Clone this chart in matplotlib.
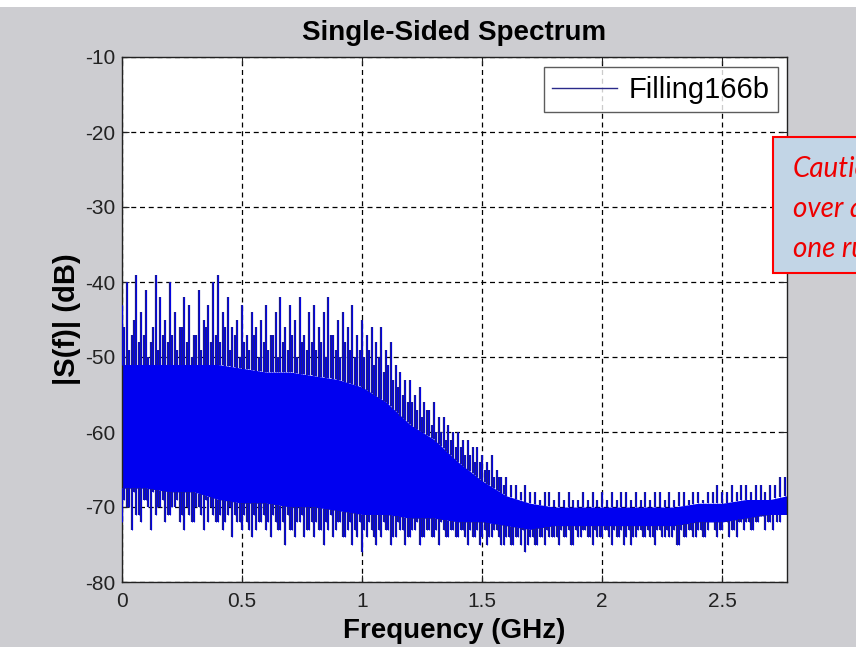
import numpy as np
import matplotlib.pyplot as plt
from matplotlib.patches import Rectangle

plt.rcParams['font.family'] = ['Liberation Sans', 'DejaVu Sans']
plt.rcParams['axes.unicode_minus'] = False

# core band of the spectrum (solid part), read every 0.1 GHz
f_env = [0, 0.1, 0.2, 0.3, 0.4, 0.5, 0.6, 0.7, 0.8, 0.9, 1.0, 1.1, 1.2, 1.3, 1.4,
         1.5, 1.6, 1.7, 1.8, 1.9, 2.0, 2.1, 2.2, 2.3, 2.4, 2.5, 2.6, 2.7, 2.77]
core_hi = [-51, -51, -51, -51, -51, -51.5, -52, -52, -52.5, -53, -54, -56, -59, -61, -64,
           -66.5, -68.5, -69.5, -70, -70, -70, -70, -70, -70, -69.5, -69.5, -69, -69, -68.5]
core_lo = [-67.5, -67.5, -68, -68, -69, -69.5, -69.5, -70, -70, -70.5, -71, -71, -71.5, -71.5, -72,
           -72, -72.5, -73, -72.5, -72.5, -72.5, -72.5, -72.5, -72.5, -72, -72, -71.5, -71, -71]

# spike extremes every 0.02 GHz (0 .. 2.76)
spike_hi = [-43, -40, -47, -39, -44, -41, -48, -39, -42, -45,
            -40, -44, -46, -42, -43, -47, -41, -45, -43, -40,
            -39, -44, -42, -46, -45, -43, -47, -44, -46, -45,
            -43, -47, -44, -42, -46, -43, -45, -42, -47, -44,
            -43, -46, -44, -42, -47, -45, -44, -46, -43, -47,
            -45, -47, -46, -48, -46, -49, -48, -51, -52, -53,
            -53, -55, -54, -56, -57, -56, -58, -58, -59, -60,
            -60, -61, -61, -62, -62, -63, -64, -63, -65, -66,
            -66, -67, -67, -68, -67, -68, -68, -69, -68, -68,
            -69, -68, -69, -68, -69, -69, -68, -69, -68, -69,
            -68, -69, -68, -69, -68, -68, -69, -68, -69, -68,
            -69, -68, -68, -69, -68, -69, -68, -68, -69, -68,
            -68, -69, -68, -68, -67, -68, -68, -67, -68, -67,
            -67, -68, -67, -67, -68, -67, -67, -66, -66]
spike_lo = [-72, -70, -73, -71, -72, -69, -73, -71, -70, -72,
            -71, -70, -72, -73, -71, -72, -70, -73, -72, -71,
            -72, -73, -71, -74, -72, -73, -72, -74, -73, -72,
            -73, -74, -72, -73, -75, -73, -74, -72, -74, -73,
            -74, -73, -75, -73, -74, -72, -74, -73, -75, -74,
            -76, -74, -73, -75, -74, -73, -75, -74, -73, -75,
            -74, -73, -75, -74, -73, -74, -75, -73, -74, -73,
            -74, -73, -75, -74, -73, -74, -75, -74, -73, -75,
            -74, -75, -74, -75, -76, -74, -75, -74, -75, -74,
            -74, -75, -74, -73, -75, -74, -73, -74, -75, -74,
            -74, -73, -75, -74, -73, -74, -75, -74, -73, -74,
            -74, -75, -73, -74, -74, -73, -75, -74, -73, -74,
            -73, -74, -73, -72, -74, -73, -72, -73, -74, -72,
            -72, -73, -72, -71, -73, -72, -71, -72, -71]
f_spike = np.linspace(0, 2.76, len(spike_hi))

# in-between spikes (0.01 .. 1.59 upper, 0.01 .. 2.75 lower)
spike_hi_b = [-46, -49, -45, -48, -47, -50, -46, -49, -47, -48,
              -47, -49, -46, -48, -50, -47, -49, -46, -48, -47,
              -48, -46, -49, -47, -50, -48, -49, -47, -50, -48,
              -49, -47, -50, -48, -49, -47, -50, -48, -49, -48,
              -49, -48, -50, -47, -49, -50, -48, -49, -50, -49,
              -50, -49, -51, -50, -52, -51, -53, -54, -55, -56,
              -56, -57, -58, -57, -59, -60, -60, -61, -61, -62,
              -62, -63, -63, -64, -64, -65, -65, -66, -66, -67]
spike_lo_b = [-69, -70, -68, -71, -69, -70, -68, -70, -69, -71,
              -70, -69, -71, -70, -72, -70, -71, -69, -70, -72,
              -71, -72, -70, -71, -72, -71, -73, -71, -72, -71,
              -72, -71, -73, -72, -71, -73, -72, -71, -73, -72,
              -72, -73, -72, -71, -73, -72, -74, -72, -73, -72,
              -73, -72, -74, -73, -72, -73, -74, -72, -73, -74,
              -73, -72, -74, -73, -74, -73, -72, -74, -73, -74,
              -73, -74, -73, -74, -75, -73, -74, -73, -74, -75,
              -74, -75, -74, -73, -75, -74, -75, -74, -73, -74,
              -74, -73, -74, -75, -73, -74, -73, -74, -73, -74,
              -73, -74, -73, -74, -75, -73, -74, -73, -74, -73,
              -74, -73, -74, -73, -74, -75, -73, -74, -73, -74,
              -73, -74, -72, -73, -73, -72, -74, -73, -72, -73,
              -72, -73, -72, -71, -72, -73, -72, -71]
f_hi_b = np.linspace(0.01, 1.59, len(spike_hi_b))
f_lo_b = np.linspace(0.01, 2.75, len(spike_lo_b))

fig = plt.figure(figsize=(8.56, 6.47), dpi=100, facecolor='#cdcdd1')
fig.patches.append(Rectangle((0, 1 - 7/647), 1, 7/647, transform=fig.transFigure,
                             facecolor='white', edgecolor='none', zorder=0))
ax = fig.add_axes([122/856, 1 - 582/647, 665/856, 525/647])

navy = '#1a1a90'
blue = '#0000f0'
ax.fill_between(f_env, core_lo, core_hi, color=blue, lw=0, zorder=2)
for ff, tips, ref in [(f_spike, spike_hi, core_hi), (f_hi_b, spike_hi_b, core_hi),
                      (f_spike, spike_lo, core_lo), (f_lo_b, spike_lo_b, core_lo)]:
    base = np.interp(ff, f_env, ref)
    ax.vlines(ff, base, tips, color=navy, lw=1.6, zorder=3)
    ax.vlines(ff, base, tips, color=blue, lw=0.6, zorder=3)
ax.plot([], [], color='#2a2a8a', lw=1, label='Filling166b')

ax.set_xlim(0, 2.77)
ax.set_ylim(-80, -10)
ax.set_xticks([0, 0.5, 1, 1.5, 2, 2.5])
ax.set_xticklabels(['0', '0.5', '1', '1.5', '2', '2.5'])
ax.set_yticks(range(-80, -9, 10))
ax.grid(True, color='black', linestyle=(0, (4, 3)), lw=0.9, zorder=1)
ax.set_axisbelow(True)
ax.tick_params(direction='in', length=5, labelsize=15, colors='#222222', top=True, right=True)
ax.tick_params(axis='x', pad=7)
ax.tick_params(axis='y', pad=5)
for s in ax.spines.values():
    s.set_linewidth(1.0)
    s.set_color('#222222')

ax.set_title('Single-Sided Spectrum', fontsize=20, fontweight='bold', pad=12)
ax.set_xlabel('Frequency (GHz)', fontsize=20, fontweight='bold', labelpad=5)
ax.set_ylabel('|S(f)| (dB)', fontsize=21, fontweight='bold', labelpad=3)

leg = ax.legend(loc='upper right', fontsize=21, frameon=True, fancybox=False,
                handlelength=2.2, handletextpad=0.4, borderpad=0.3, borderaxespad=0,
                bbox_to_anchor=(0.9865, 0.981))
leg.get_frame().set_edgecolor('#333333')
leg.get_frame().set_linewidth(1.0)

# caution note, partly outside the figure
fig.patches.append(Rectangle((773/856, 1 - 273/647), 0.2, 136/647, transform=fig.transFigure,
                             facecolor='#c2d5e6', edgecolor='#ff0000', lw=1.5, zorder=5))
for i, line in enumerate(['Caution', 'over a', 'one run']):
    fig.text(793/856, 1 - (169 + 40*i)/647, line, color='#ee0000', fontsize=20,
             style='italic', family='Lato', va='center', zorder=6)

plt.savefig('out.png', dpi=100, facecolor=fig.get_facecolor())
